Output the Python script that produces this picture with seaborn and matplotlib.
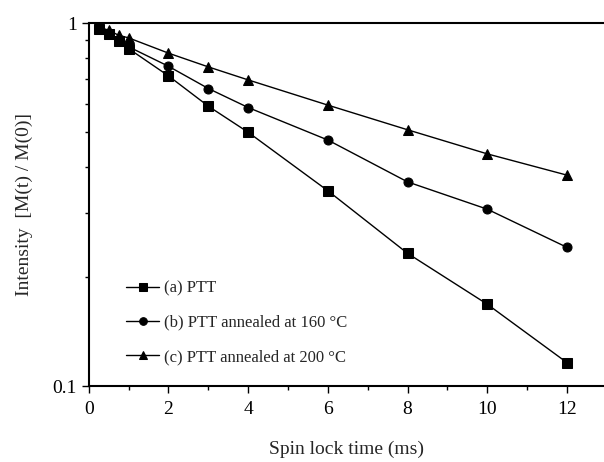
import matplotlib
matplotlib.use("Agg")
import matplotlib.pyplot as plt
import seaborn as sns
import pandas as pd
import numpy as np
from matplotlib.ticker import FixedLocator, NullFormatter

sns.set_style("white")
plt.rcParams['font.family'] = ['Liberation Serif', 'DejaVu Serif']

time_ms = [0.25, 0.5, 0.75, 1, 2, 3, 4, 6, 8, 10, 12]
ptt = [0.96, 0.93, 0.89, 0.85, 0.715, 0.59, 0.50, 0.345, 0.232, 0.168, 0.116]
ptt_160 = [0.96, 0.935, 0.90, 0.86, 0.76, 0.66, 0.585, 0.476, 0.365, 0.307, 0.241]
ptt_200 = [0.975, 0.955, 0.925, 0.91, 0.826, 0.757, 0.697, 0.594, 0.508, 0.436, 0.381]
labels = ["(a) PTT", "(b) PTT annealed at 160 \u00b0C", "(c) PTT annealed at 200 \u00b0C"]

df = pd.concat([
    pd.DataFrame({"t": time_ms, "I": vals, "sample": lab})
    for vals, lab in zip([ptt, ptt_160, ptt_200], labels)
])

fig = plt.figure(figsize=(6.04, 4.62), dpi=100)
ax = fig.add_axes([0.147, 0.1645, 0.853, 0.7857])

sns.lineplot(data=df, x="t", y="I", hue="sample", style="sample",
             markers=["s", "o", "^"], dashes=False,
             palette=["black"] * 3, markersize=6.5, linewidth=1.0,
             markeredgecolor="black", ax=ax)

ax.set_yscale("log")
ax.set_ylim(0.1, 1)
ax.set_xlim(0, 12.93)
ax.set_xticks([0, 2, 4, 6, 8, 10, 12])
ax.xaxis.set_minor_locator(FixedLocator([1, 3, 5, 7, 9, 11]))
ax.yaxis.set_major_locator(FixedLocator([0.1, 1]))
ax.set_yticklabels(["0.1", "1"])
ax.yaxis.set_minor_locator(FixedLocator([0.2, 0.3, 0.4, 0.5, 0.6, 0.7, 0.8, 0.9]))
ax.yaxis.set_minor_formatter(NullFormatter())

for s in ["left", "bottom", "top"]:
    ax.spines[s].set_color("black")
    ax.spines[s].set_linewidth(1.5)
ax.spines["right"].set_visible(False)

ax.tick_params(axis="both", which="major", direction="out", length=5, width=1,
               labelsize=14, color="black", labelcolor="black", left=True, bottom=True)
ax.tick_params(axis="both", which="minor", direction="out", length=3, width=1,
               color="black", left=True, bottom=True)
ax.tick_params(axis="x", pad=6)

ax.set_xlabel("Spin lock time (ms)", fontsize=14, labelpad=16)
ax.set_ylabel("Intensity  [M(t) / M(0)]", fontsize=14, labelpad=14)

leg = ax.legend(loc="lower left", bbox_to_anchor=(0.043, 0.016), frameon=False,
                fontsize=12, handlelength=2.0, handletextpad=0.3, labelspacing=1.1)
for h in leg.legend_handles:
    h.set_markersize(5.5)

fig.savefig("out.png", dpi=100)
